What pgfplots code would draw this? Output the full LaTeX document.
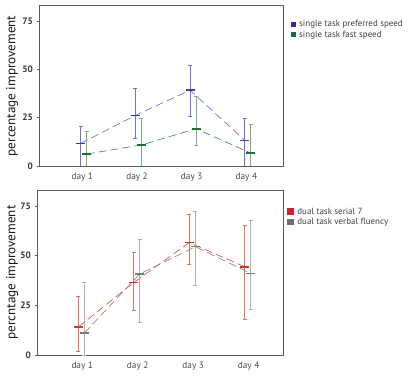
\documentclass[border=0pt]{standalone}
\usepackage{fontspec}
\setmainfont{PT Sans}
\usepackage{pgfplots}
\pgfplotsset{compat=1.18}
\definecolor{frame}{HTML}{5A5A5A}
\definecolor{bluebar}{HTML}{7070D4}
\definecolor{bluemean}{HTML}{3A3AA8}
\definecolor{blueline}{HTML}{7474D8}
\definecolor{greenbar}{HTML}{78AE86}
\definecolor{greenmean}{HTML}{1E6E32}
\definecolor{greenline}{HTML}{4E9060}
\definecolor{redbar}{HTML}{E4705E}
\definecolor{redmean}{HTML}{D0382A}
\definecolor{redline}{HTML}{E05A48}
\definecolor{greybar}{HTML}{B0B0B0}
\definecolor{greymean}{HTML}{7A7A7A}
\definecolor{greyline}{HTML}{8C8C8C}
\definecolor{legblue}{HTML}{2E2EA0}
\definecolor{leggreen}{HTML}{1A6E3A}
\definecolor{legred}{HTML}{CC2233}
\definecolor{leggrey}{HTML}{6E6E6E}
\pgfplotsset{
  panel/.style={
    scale only axis,
    ymin=0, ymax=83,
    axis line style={color=frame, line width=0.9bp},
    xtick={1,2,3,4},
    xticklabels={day 1,day 2,day 3,day 4},
    ytick={0,25,50,75},
    tick align=outside,
    major tick length=2.5bp,
    xtick style={draw=none},
    ytick style={color=frame, line width=0.8bp},
    ytick pos=left,
    xtick pos=bottom,
    /pgf/number format/assume math mode=true,
    yticklabel style={font=\fontsize{9.3}{10}\selectfont\bfseries, text=black!80, xshift=-0.5bp},
    xticklabel style={font=\fontsize{9.3}{10}\selectfont, text=black!70, yshift=-0.5bp},
    ylabel style={font=\fontsize{13.2}{15}\selectfont, text=black!90},
    legend style={draw=none, fill=none, inner sep=0pt, anchor=north west,
      font=\fontsize{9}{10}\selectfont, text=black!75,
      row sep=0.5bp, nodes={inner sep=1bp},
      /tikz/every odd column/.style={column sep=2.5bp}},
    legend cell align=left,
  },
  series/.style n args={3}{
    color=#3, line width=0.7bp, dash pattern=on 8bp off 4bp,
    mark=-, mark size=4.5bp,
    mark options={solid, line width=1.6bp, color=#2},
    error bars/.cd, y dir=both, y explicit,
    error bar style={solid, line width=0.9bp, color=#1},
    error mark options={rotate=90, solid, mark size=2bp, line width=0.9bp, color=#1},
    /pgfplots/.cd,
  },
}
\begin{document}
\begin{tikzpicture}
\useasboundingbox (0,0) rectangle (408bp,376bp);
% top panel
\begin{axis}[panel,
  at={(39.3bp,210bp)}, anchor=south west,
  width=243.7bp, height=160.3bp,
  xmin=0.214, xmax=4.67,
  ylabel={percentage improvement},
  y label style={at={(axis description cs:-0.112,0.5)}, anchor=center},
  legend style={at={(axis description cs:1.03,0.915)}},
]
\addplot[series={bluebar}{bluemean}{blueline},
  legend image code/.code={\fill[legblue, draw=none, solid] (0bp,-2.6bp) rectangle (5.2bp,2.6bp);}]
coordinates {
  (0.97,11.7) += (0,8.6) -= (0,11.7)
  (1.97,26.2) += (0,13.8) -= (0,11.7)
  (2.97,39.2) += (0,13.0) -= (0,13.8)
  (3.97,13.3) += (0,11.2) -= (0,13.3)
};
\addlegendentry{single task preferred speed}
\addplot[series={greenbar}{greenmean}{greenline},
  legend image code/.code={\fill[leggreen, draw=none, solid] (0bp,-2.6bp) rectangle (5.2bp,2.6bp);}]
coordinates {
  (1.08,6.2) += (0,11.9) -= (0,6.2)
  (2.08,10.9) += (0,13.8) -= (0,10.9)
  (3.08,19.3) += (0,16.6) -= (0,8.6)
  (4.08,6.7) += (0,14.7) -= (0,6.7)
};
\addlegendentry{single task fast speed}
\end{axis}
% bottom panel
\begin{axis}[panel,
  at={(37.3bp,21bp)}, anchor=south west,
  width=245.7bp, height=165bp,
  xmin=0.19, xmax=4.62,
  ylabel={percntage improvement},
  y label style={at={(axis description cs:-0.103,0.5)}, anchor=center},
  legend style={at={(axis description cs:1.015,0.9)}},
]
\addplot[series={redbar}{redmean}{redline},
  legend image code/.code={\fill[legred, draw=none, solid] (0bp,-3.5bp) rectangle (7bp,3.5bp);}]
coordinates {
  (0.93,14.1) += (0,15.5) -= (0,12.4)
  (1.93,36.5) += (0,14.9) -= (0,14.0)
  (2.93,56.5) += (0,14.4) -= (0,11.0)
  (3.93,44.4) += (0,20.8) -= (0,26.6)
};
\addlegendentry{dual task serial 7}
\addplot[series={greybar}{greymean}{greyline},
  legend image code/.code={\fill[leggrey, draw=none, solid] (0bp,-3bp) rectangle (7bp,3bp);}]
coordinates {
  (1.04,11.1) += (0,25.2) -= (0,11.1)
  (2.04,40.8) += (0,17.2) -= (0,24.2)
  (3.04,54.5) += (0,17.6) -= (0,19.4)
  (4.04,41.0) += (0,26.6) -= (0,18.3)
};
\addlegendentry{dual task verbal fluency}
\end{axis}
\end{tikzpicture}
\end{document}
